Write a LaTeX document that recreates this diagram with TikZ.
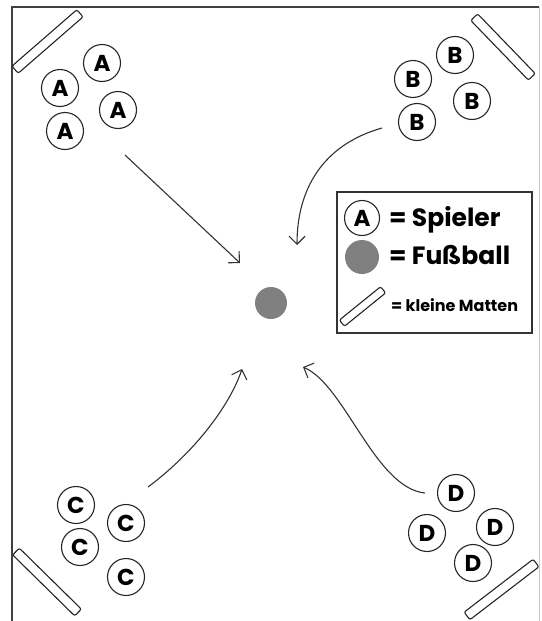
\documentclass[tikz,border=0pt]{standalone}
\usepackage{fontspec}
\setmainfont{Poppins}
\usetikzlibrary{arrows.meta}
\definecolor{ballgray}{HTML}{808080}
\definecolor{framegray}{HTML}{404040}
\definecolor{edgegray}{HTML}{C8C8C8}
\tikzset{
  player/.style={circle, draw=black!85, line width=1.1pt, minimum size=37pt, inner sep=0pt, font=\bfseries\fontsize{23}{23}\selectfont},
  ball/.style={circle, fill=ballgray, minimum size=#1, inner sep=0pt},
  mat/.style={draw=black!85, line width=1.1pt, rounded corners=2pt, minimum height=9.5pt, inner sep=0pt},
  runarrow/.style={draw=black!80, line width=1.1pt, -{Straight Barb[length=8pt,width=16pt,line width=1.1pt]}},
  legtext/.style={anchor=base west, inner sep=0pt, font=\bfseries\fontsize{25}{25}\selectfont},
}
\begin{document}
\begin{tikzpicture}[x=1pt,y=-1pt]
\useasboundingbox (0,0) rectangle (541,621);
\fill[white] (0,0) rectangle (541,621);
% frame
\draw[framegray, line width=1.4pt] (12,621) -- (12,7) -- (539,7);
\draw[edgegray, line width=1pt] (539,7) -- (539,621);
% mats
\node[mat, minimum width=86pt, rotate=41] (matA) at (47.5,41.5) {};
\node[mat, minimum width=83pt, rotate=-46] (matB) at (503,47) {};
\node[mat, minimum width=87pt, rotate=-44.5] (matC) at (47,582) {};
\node[mat, minimum width=87pt, rotate=37.5] (matD) at (501.5,589.5) {};
% players A
\node[player] (a1) at (102,63) {A};
\node[player] (a2) at (60,88) {A};
\node[player] (a3) at (118,110) {A};
\node[player] (a4) at (65,131) {A};
% players B
\node[player] (b1) at (455,55) {B};
\node[player] (b2) at (413,79) {B};
\node[player] (b3) at (472,101) {B};
\node[player] (b4) at (417,122) {B};
% players C
\node[player] (c1) at (76,505) {C};
\node[player] (c2) at (126,523) {C};
\node[player] (c3) at (80,547) {C};
\node[player] (c4) at (126,577) {C};
% players D
\node[player] (d1) at (456,493) {D};
\node[player] (d2) at (427,533) {D};
\node[player] (d3) at (495,527) {D};
\node[player] (d4) at (473,563) {D};
% ball
\node[ball=32pt] (ball) at (271,303) {};
% arrow ends
\coordinate (aS) at (125,155);
\coordinate (aE) at (240,263);
\coordinate (bS) at (382,128);
\coordinate (bE) at (297,245);
\coordinate (cS) at (148,487);
\coordinate (cE) at (242,369);
\coordinate (dS) at (425,493);
\coordinate (dE) at (303,367);
\draw[runarrow] (aS) -- (aE);
\draw[runarrow] (bS) .. controls (322,145) and (297,190) .. (bE);
\draw[runarrow] (cS) .. controls (195,452) and (230,405) .. (cE);
\draw[runarrow] (dS) .. controls (375,488) and (345,385) .. (dE);
% legend
\node[draw=black!80, line width=1.1pt, minimum width=195pt, minimum height=141pt, inner sep=0pt] (legend) at (434.5,262.5) {};
\node[player, minimum size=35pt] (legA) at (362,218) {A};
\node[legtext] (legAt) at (389,226) {= Spieler};
\node[ball=34pt] (legBall) at (362,257) {};
\node[legtext] (legBt) at (389,264) {= Fußball};
\node[mat, minimum width=53pt, minimum height=8pt, rotate=39] (legMat) at (362.5,306.5) {};
\node[legtext, font=\bfseries\fontsize{16}{16}\selectfont] (legMt) at (391,311) {= kleine Matten};
\end{tikzpicture}
\end{document}
